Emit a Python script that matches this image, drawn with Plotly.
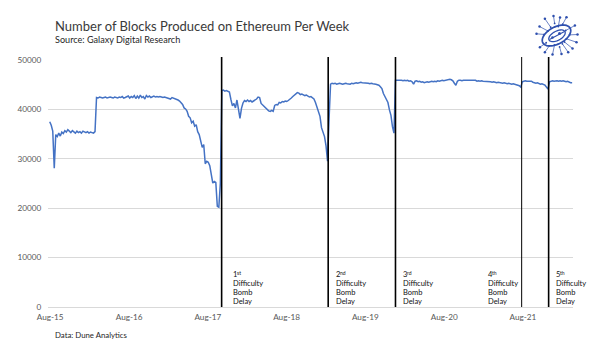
import math
import pandas as pd
import plotly.graph_objects as go

# ---------------- data (weekly blocks produced) ----------------
seg_2015_16 = [37500, 36800, 35600, 28100, 34900, 34500, 35200, 34600, 35400, 35100,
               35700, 35400, 35900, 35600, 35300, 35700, 35400, 35200, 35600, 35300,
               35500, 35200, 35600, 35400, 35300, 35500, 35200, 35400, 35300, 35200,
               35500]
seg_plateau = [42400, 42300, 42500, 42400, 42300, 42400, 42500, 42300, 42400, 42500,
               42400, 42300, 42500, 42400, 42300, 42500, 42400, 42600, 42300, 42400,
               42500, 42700, 42300, 42600, 42400, 42800, 42200, 42700, 42300, 42900,
               42400, 42600, 42100, 42800, 42500, 42700, 42400, 42600, 42700, 42500,
               42600, 42500, 42600, 42500, 42400, 42500, 42400, 42300, 42200, 42100,
               42400, 42300, 42200]
seg_bomb1 = [42100, 41900, 41700, 41300, 41000, 40300, 40100, 39600, 38600, 38300,
             37300, 37600, 36600, 36900, 35500, 34900, 33500, 32300, 32900, 29000,
             29500, 29300, 28600, 27000, 25100, 25400, 25200, 20400, 20200, 25000]
seg_2018 = [43800, 43900, 43700, 43800, 43600, 43500, 42000, 40700, 41200, 40300,
            41900, 39500, 38200, 40200, 41300, 41800, 41600, 41900, 41600, 41800,
            41500, 41700, 41900, 42100, 42500, 42400, 41200, 40900, 40500, 40200,
            39900, 39700, 39600, 39800, 39600, 40800, 41000, 40900, 41400, 41300,
            41600, 41500, 41700, 41600, 41800, 42000, 42300, 42600, 42900, 43200,
            43400, 43300, 43000, 43100, 42900, 42800, 42900, 42700, 42500, 42600,
            42300, 42100, 41400, 40300, 39300, 38600, 36300, 35100, 34500, 32600,
            29500, 38000]
seg_2019 = [45100, 45300,
            45200, 45300, 45100, 45200, 45300, 45200, 45100, 45200, 45300, 45200,
            45200, 45100, 45300, 45200, 45300, 45400, 45300, 45400, 45500, 45400,
            45400, 45300, 45400, 45300, 45200, 45300, 45200, 45200,
            45100, 45000, 44900, 44600, 44200, 43200, 42600, 42000, 41400, 39900,
            38800, 36500, 35200, 45900]
seg_2020_21 = [45900, 46000, 45900, 45900, 45800, 45900, 45800, 45900, 45700, 45800,
               45600, 45100, 45700, 45800, 45600, 45700, 45500, 45600, 45400, 45500,
               45600, 45500, 45600, 45700, 45600, 45700, 45600, 45800, 45700, 45800,
               45900, 45800, 45900, 46000, 46100, 46100, 46000, 45800, 45300, 44900,
               45700, 45900, 45900, 45800, 45900, 45900, 45800, 45900, 45800, 45900,
               45800, 45800, 45900, 45700, 45800, 45700, 45800, 45700, 45700, 45600,
               45700, 45600, 45600, 45500, 45600, 45500, 45400, 45500, 45400, 45400,
               45300, 45400, 45300, 45200, 45300, 45200, 45100, 45200, 45100, 45000,
               45000, 44800, 44500]
seg_2021_22 = [45600, 45700, 45800, 45700, 45700, 45600, 45700, 45500, 45400, 45300,
               45400, 45200, 45100, 45200, 45000, 44900, 44500, 44100, 45600, 45700,
               45800, 45700, 45800, 45800, 45700, 45800, 45700, 45800, 45700, 45600,
               45700, 45500, 45400, 45400]

blocks = seg_2015_16 + seg_plateau + seg_bomb1 + seg_2018 + seg_2019 + seg_2020_21 + seg_2021_22
week_start = "2015-07-30"
dates = pd.date_range(week_start, periods=len(blocks), freq="7D")

x_tick_dates = ["2015-08-01", "2016-08-01", "2017-08-01", "2018-08-01",
                "2019-08-01", "2020-08-01", "2021-08-01"]
x_tick_labels = ["Aug-15", "Aug-16", "Aug-17", "Aug-18", "Aug-19", "Aug-20", "Aug-21"]
y_ticks = [0, 10000, 20000, 30000, 40000, 50000]

event_dates = ["2017-10-04", "2019-02-10", "2019-12-19", "2021-07-26", "2021-11-28"]
event_numbers = ["1", "2", "3", "4", "5"]
event_suffixes = ["st", "nd", "rd", "th", "th"]
event_words = ["Difficulty", "Bomb", "Delay"]

title_text = "Number of Blocks Produced on Ethereum Per Week"
subtitle_text = "Source: Galaxy Digital Research"
footer_text = "Data: Dune Analytics"

# ---------------- layout helpers ----------------
W, H = 600, 352
L, R, T, B = 48, 27, 60, 45
PW, PH = W - L - R, H - T - B


def PX(px):
    return (px - L) / PW


def PY(py):
    return (H - B - py) / PH


FONT = "Lato, 'Open Sans', sans-serif"
BLUE = "#4472C4"
GRID = "#D9D9D9"
TICK = "#595959"
ANN = "#111111"

fig = go.Figure()
fig.add_trace(go.Scatter(x=dates, y=blocks, mode="lines",
                         line=dict(color=BLUE, width=1.5), hoverinfo="skip",
                         showlegend=False))

shapes = []
event_widths = [1.6, 1.6, 1.6, 1.0, 1.6]
for d, w in zip(event_dates, event_widths):
    shapes.append(dict(type="line", xref="x", yref="paper", x0=d, x1=d,
                       y0=0, y1=PY(57), line=dict(color="#000000", width=w),
                       layer="above"))


def label(txt, px, py, size, color, anchor="left"):
    return dict(xref="paper", yref="paper", x=PX(px), y=PY(py),
                xanchor=anchor, yanchor="middle", showarrow=False,
                text=txt, font=dict(family=FONT, size=size, color=color))


annotations = []
text_px = [231, 334, 401, 486, 554]
rows_py = [274.8, 283.5, 292.3, 301]
for num, suf, tx in zip(event_numbers, event_suffixes, text_px):
    annotations.append(label(num, tx, rows_py[0], 7.5, ANN))
    annotations.append(label(suf, tx + 4.3, rows_py[0] - 1.6, 5, ANN))
    for txt, ry in zip(event_words, rows_py[1:]):
        annotations.append(label(txt, tx, ry, 7.5, ANN))

annotations.append(label(title_text, 53, 26, 13.0, "#3a3a3a"))
annotations.append(label(subtitle_text, 53, 40, 9.1, "#262626"))
annotations.append(label(footer_text, 53, 335, 7.8, "#262626"))

# ---------------- logo (decorative) ----------------
LOGO = "#2E4FAE"
cx, cy = 556.5, 35.5


def ellipse_path(a, b, theta_deg, ox=0.0, oy=0.0, n=48):
    th = math.radians(theta_deg)
    pts = []
    for i in range(n):
        t = 2 * math.pi * i / n
        ex = a * math.cos(t)
        ey = b * math.sin(t)
        px = cx + ox + ex * math.cos(th) - ey * math.sin(th)
        py = cy + oy - (ex * math.sin(th) + ey * math.cos(th))
        pts.append((PX(px), PY(py)))
    return "M " + " L ".join(f"{x:.5f},{y:.5f}" for x, y in pts) + " Z"


shapes.append(dict(type="path", xref="paper", yref="paper",
                   path=ellipse_path(15.5, 8.5, 28), line=dict(color=LOGO, width=1.7)))
shapes.append(dict(type="path", xref="paper", yref="paper",
                   path=ellipse_path(9, 4.6, 28, 0.5, 0.3), line=dict(color=LOGO, width=1.3)))
shapes.append(dict(type="line", xref="paper", yref="paper",
                   x0=PX(cx - 7), y0=PY(cy + 4), x1=PX(cx + 8), y1=PY(cy - 4),
                   line=dict(color=LOGO, width=1.1)))

nodes = [(-11.6, -16.7), (-3, -19.5), (3.5, -18), (10, -18.3), (18.4, -10), (-20, -1.7),
         (20, 6.7), (-11.6, 16.7), (-4, 19), (5, 18.5), (11.7, 16.7), (-16.6, 11.7),
         (-17, -9), (21, -1), (16, 13)]


def dot(px, py, r):
    return dict(type="circle", xref="paper", yref="paper",
                x0=PX(px - r), x1=PX(px + r), y0=PY(py + r), y1=PY(py - r),
                fillcolor=LOGO, line=dict(width=0))


for k, (dx, dy) in enumerate(nodes):
    px, py = cx + dx, cy + dy
    f = 0.62 if k % 2 else 0.5
    ix, iy = cx + dx * f, cy + dy * f
    shapes.append(dict(type="line", xref="paper", yref="paper",
                       x0=PX(px), y0=PY(py), x1=PX(ix), y1=PY(iy),
                       line=dict(color=LOGO, width=0.7)))
    shapes.append(dot(px, py, 1.25))
    shapes.append(dot(ix, iy, 0.9))
shapes.append(dot(cx + 3, cy - 2, 1.5))
shapes.append(dot(cx - 4, cy + 2, 1.3))

fig.update_layout(
    width=W, height=H,
    margin=dict(l=L, r=R, t=T, b=B, pad=0),
    paper_bgcolor="white", plot_bgcolor="white",
    font=dict(family=FONT, color=TICK),
    showlegend=False,
    shapes=shapes,
    annotations=annotations,
    xaxis=dict(type="date", range=["2015-07-22", "2022-03-21"],
               tickvals=x_tick_dates, ticktext=x_tick_labels,
               showgrid=False, zeroline=False, showline=True, linecolor=GRID, linewidth=1,
               ticks="outside", ticklen=2, tickcolor="rgba(0,0,0,0)",
               tickfont=dict(family=FONT, size=8.2, color=TICK)),
    yaxis=dict(range=[0, 50000], tickvals=y_ticks, ticktext=[str(v) for v in y_ticks],
               showgrid=True, gridcolor=GRID, gridwidth=1, zeroline=False, showline=False,
               ticks="outside", ticklen=4, tickcolor="rgba(0,0,0,0)",
               tickfont=dict(family=FONT, size=8.2, color=TICK)),
)

fig.write_html("out.html")
